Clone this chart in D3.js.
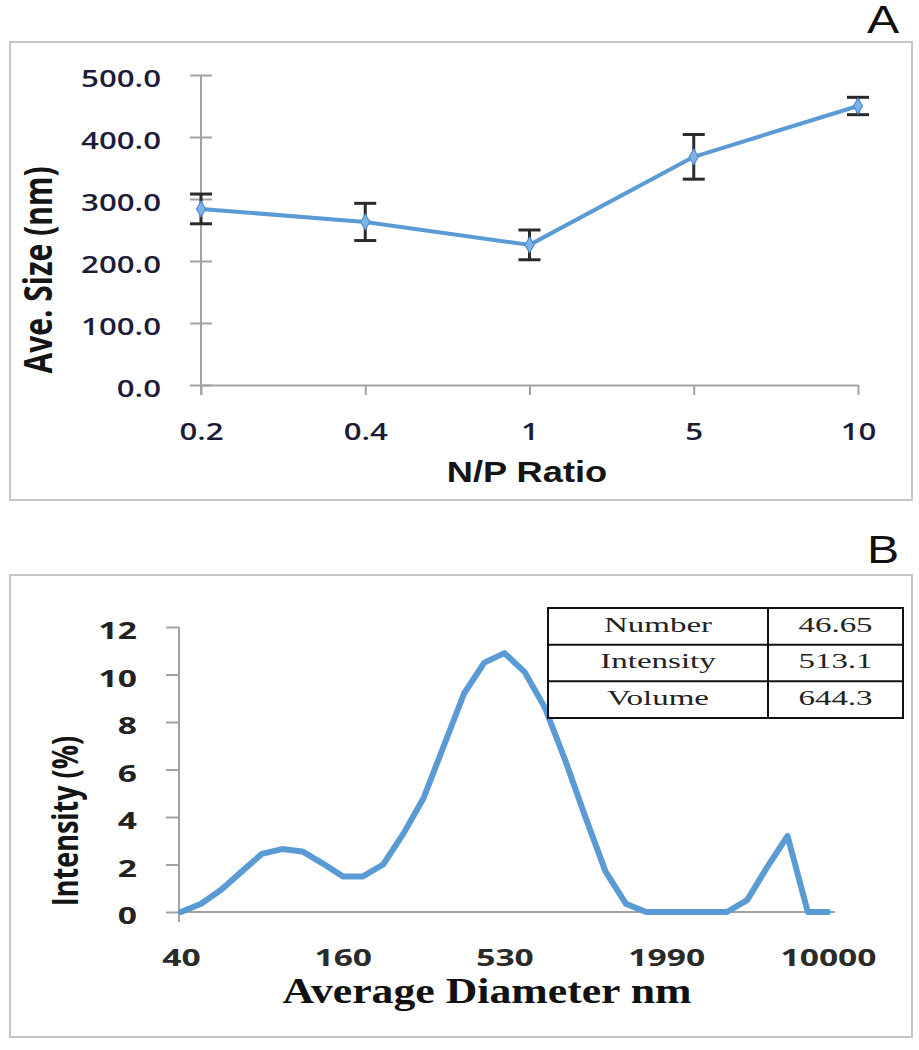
<!DOCTYPE html>
<html><head><meta charset="utf-8">
<script src="https://cdn.jsdelivr.net/npm/d3@7"></script>
<style>body{margin:0;background:#fff}</style>
</head><body><svg id="c" width="919" height="1050"></svg>
<script>
// ---------- Panel A data ----------
const npRatios = ["0.2", "0.4", "1", "5", "10"];
const aveSize = [284, 263, 226, 368, 450];
const sizeErr = [24, 30, 24, 36, 14];
const sizeTicks = [0, 100, 200, 300, 400, 500];

// ---------- Panel B data ----------
const intensity = [0, 0.35, 0.95, 1.7, 2.45, 2.65, 2.55, 2.05, 1.5, 1.5, 2.0, 3.3, 4.8, 7.0, 9.2, 10.5, 10.9, 10.1, 8.6, 6.4, 4.0, 1.7, 0.35, 0, 0, 0, 0, 0, 0.5, 1.9, 3.2, 0, 0];
const diameterTickBins = [0, 8, 16, 24, 32];
const diameterTickLabels = ["40", "160", "530", "1990", "10000"];
const intensityTicks = [0, 2, 4, 6, 8, 10, 12];
const tableNames = ["Number", "Intensity", "Volume"];
const tableValues = ["46.65", "513.1", "644.3"];

const svg = d3.select("#c");
const AX = "#a3a3a3";
const BLUE = "#5b9bd5";

function placeText(sel, x, y, sx, rot) {
  sel.attr("x", 0).attr("y", 0)
     .attr("transform", `translate(${x},${y}) scale(${sx},1)` + (rot ? ` rotate(${rot})` : ""));
}

// frames
svg.append("rect").attr("x", 10).attr("y", 42).attr("width", 902).attr("height", 458)
  .attr("fill", "none").attr("stroke", "#c6c6c6").attr("stroke-width", 2);
svg.append("rect").attr("x", 10).attr("y", 575).attr("width", 902).attr("height", 462)
  .attr("fill", "none").attr("stroke", "#c6c6c6").attr("stroke-width", 2);

// panel letters
[["A", 33], ["B", 563]].forEach(([t, y]) => {
  svg.append("text").text(t).attr("text-anchor", "middle")
    .style("font-family", "Liberation Sans, Arial, sans-serif").style("font-size", "38px").attr("fill", "#111")
    .call(placeText, 883, y, 1.27);
});

// ================= Panel A =================
const xA = d3.scalePoint().domain(npRatios).range([201, 858]);
const yA = d3.scaleLinear().domain([0, 500]).range([385, 75]);

const gyA = svg.append("g").attr("transform", `translate(${xA.range()[0]},0)`)
  .call(d3.axisLeft(yA).tickValues(sizeTicks).tickFormat(d3.format(".1f")).tickSize(11).tickSizeOuter(0));
gyA.select(".domain").remove();
gyA.selectAll(".tick line").attr("x1", -11).attr("x2", 11).attr("stroke", AX).attr("stroke-width", 2);
gyA.selectAll(".tick text")
  .style("font-family", "Open Sans, sans-serif").style("font-size", "24px").style("font-weight", 600)
  .attr("fill", "#1c1c38").attr("dy", "0.36em")
  .each(function () { placeText(d3.select(this), -40, 3, 1.3); });
gyA.append("line").attr("x1", 0).attr("x2", 0).attr("y1", yA(500)).attr("y2", yA(0) + 10)
  .attr("stroke", AX).attr("stroke-width", 2);

const gxA = svg.append("g").attr("transform", `translate(0,${yA(0)})`)
  .call(d3.axisBottom(xA).tickSize(10).tickSizeOuter(0));
gxA.select(".domain").attr("stroke", AX).attr("stroke-width", 2);
gxA.selectAll(".tick line").attr("stroke", AX).attr("stroke-width", 2);
gxA.selectAll(".tick text")
  .style("font-family", "Open Sans, sans-serif").style("font-size", "24px").style("font-weight", 600)
  .attr("fill", "#1c1c38").attr("dy", "0.36em")
  .each(function () { placeText(d3.select(this), 0, 46, 1.3); });

// series line
const lineA = d3.line().x((d, i) => xA(npRatios[i])).y(d => yA(d));
svg.append("path").datum(aveSize).attr("d", lineA)
  .attr("fill", "none").attr("stroke", BLUE).attr("stroke-width", 4).attr("stroke-linejoin", "round");

// error bars
const eb = svg.append("g").attr("stroke", "#2a2a2a").attr("stroke-width", 3);
aveSize.forEach((v, i) => {
  const x = xA(npRatios[i]);
  eb.append("line").attr("x1", x).attr("x2", x).attr("y1", yA(v + sizeErr[i])).attr("y2", yA(v - sizeErr[i]));
  [v + sizeErr[i], v - sizeErr[i]].forEach(e => {
    eb.append("line").attr("x1", x - 11).attr("x2", x + 11).attr("y1", yA(e)).attr("y2", yA(e));
  });
});

// markers
svg.append("g").selectAll("path").data(aveSize).join("path")
  .attr("d", d3.symbol(d3.symbolDiamond, 70))
  .attr("transform", (d, i) => `translate(${xA(npRatios[i])},${yA(d)})`)
  .attr("fill", "#7fb3e6").attr("stroke", "#4f8fd0").attr("stroke-width", 1.2);

// titles
svg.append("text").text("N/P Ratio").attr("text-anchor", "middle")
  .style("font-family", "Liberation Sans, Arial, sans-serif").style("font-size", "29px").style("font-weight", 700)
  .attr("fill", "#151515").call(placeText, 527, 482, 1.25);
svg.append("text").text("Ave. Size (nm)").attr("text-anchor", "middle").attr("dy", "0.35em")
  .style("font-family", "Open Sans, sans-serif").style("font-size", "30px").style("font-weight", 700)
  .attr("fill", "#151515").call(placeText, 38, 270, 1.3, -90);

// ================= Panel B =================
const xB = d3.scalePoint().domain(d3.range(intensity.length)).range([181, 828]);
const yB = d3.scaleLinear().domain([0, 12]).range([912, 627]);
const axisXB = 179;

const gyB = svg.append("g").attr("transform", `translate(${axisXB},0)`)
  .call(d3.axisLeft(yB).tickValues(intensityTicks).tickFormat(d3.format("d")).tickSize(13).tickSizeOuter(0));
gyB.select(".domain").remove();
gyB.selectAll(".tick line").attr("stroke", AX).attr("stroke-width", 2);
gyB.selectAll(".tick text")
  .style("font-family", "Open Sans, sans-serif").style("font-size", "24px").style("font-weight", 700)
  .attr("fill", "#222").attr("dy", "0.36em")
  .each(function () { placeText(d3.select(this), -42, 3, 1.4); });
gyB.append("line").attr("x1", 0).attr("x2", 0).attr("y1", yB(12)).attr("y2", yB(0) + 10)
  .attr("stroke", AX).attr("stroke-width", 2);

// x axis line B
svg.append("line").attr("x1", axisXB).attr("x2", 835).attr("y1", yB(0)).attr("y2", yB(0))
  .attr("stroke", AX).attr("stroke-width", 2);
const gxB = svg.append("g").attr("transform", `translate(0,${yB(0)})`)
  .call(d3.axisBottom(xB).tickValues(diameterTickBins)
    .tickFormat((d, i) => diameterTickLabels[i]).tickSize(0).tickSizeOuter(0));
gxB.select(".domain").remove();
gxB.selectAll(".tick text")
  .style("font-family", "Open Sans, sans-serif").style("font-size", "24px").style("font-weight", 700)
  .attr("fill", "#2a2a2a").attr("dy", "0.36em")
  .each(function () { placeText(d3.select(this), 0, 45, 1.4); });

// curve
const lineB = d3.line().x((d, i) => xB(i)).y(d => yB(d));
svg.append("path").datum(intensity).attr("d", lineB)
  .attr("fill", "none").attr("stroke", BLUE).attr("stroke-width", 6)
  .attr("stroke-linejoin", "round").attr("stroke-linecap", "round");

// titles B
svg.append("text").text("Average Diameter nm").attr("text-anchor", "middle")
  .style("font-family", "Liberation Serif, Times New Roman, serif").style("font-size", "35px").style("font-weight", 700)
  .attr("fill", "#111").call(placeText, 487, 1003, 1.25);
svg.append("text").text("Intensity (%)").attr("text-anchor", "middle").attr("dy", "0.35em")
  .style("font-family", "Open Sans, sans-serif").style("font-size", "27px").style("font-weight", 700)
  .attr("fill", "#151515").call(placeText, 66, 821, 1.3, -90);

// table
const tX0 = 548, tX1 = 768, tX2 = 903;
const yT = d3.scaleBand().domain(tableNames).range([608, 718]);
const tg = svg.append("g");
tg.append("rect").attr("x", tX0).attr("y", yT.range()[0]).attr("width", tX2 - tX0)
  .attr("height", yT.range()[1] - yT.range()[0]).attr("fill", "#fff").attr("stroke", "#111").attr("stroke-width", 2);
tg.append("line").attr("x1", tX1).attr("x2", tX1).attr("y1", yT.range()[0]).attr("y2", yT.range()[1])
  .attr("stroke", "#111").attr("stroke-width", 2);
tableNames.slice(1).forEach(n => {
  tg.append("line").attr("x1", tX0).attr("x2", tX2).attr("y1", yT(n)).attr("y2", yT(n))
    .attr("stroke", "#111").attr("stroke-width", 2);
});
tableNames.forEach((n, i) => {
  const cy = yT(n) + yT.bandwidth() / 2 - 2;
  tg.append("text").text(n).attr("text-anchor", "middle").attr("dy", "0.33em")
    .style("font-family", "Liberation Serif, Times New Roman, serif").style("font-size", "22px")
    .attr("fill", "#222").call(placeText, (tX0 + tX1) / 2, cy, 1.5);
  tg.append("text").text(tableValues[i]).attr("text-anchor", "middle").attr("dy", "0.33em")
    .style("font-family", "Liberation Serif, Times New Roman, serif").style("font-size", "22px")
    .attr("fill", "#222").call(placeText, (tX1 + tX2) / 2, cy, 1.5);
});
</script>
</body></html>
